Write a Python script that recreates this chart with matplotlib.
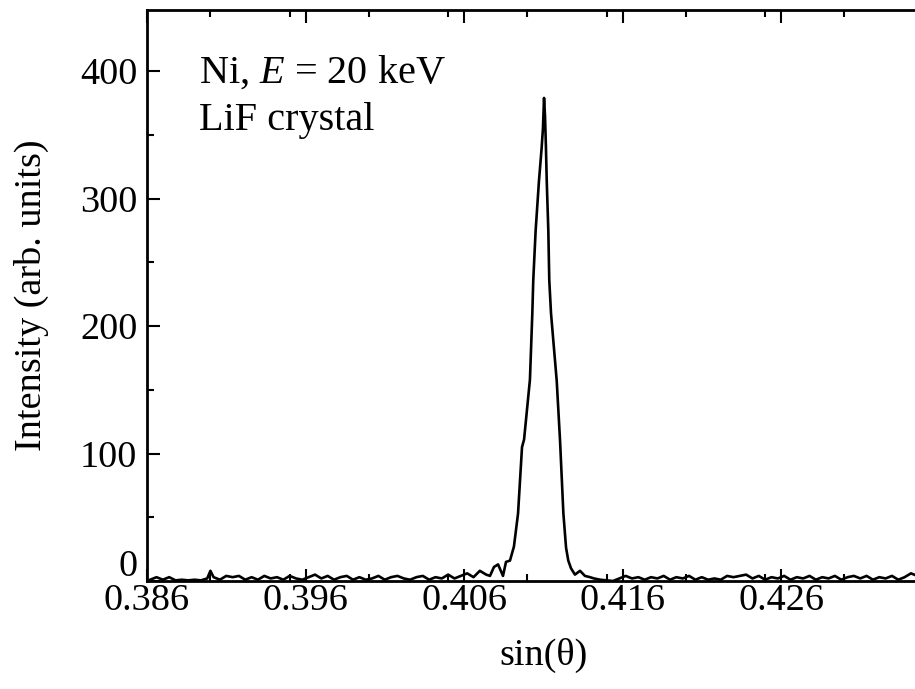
"""Ni K-alpha line on a LiF crystal, intensity against sin(theta)."""

import matplotlib
matplotlib.use("Agg")
import matplotlib.pyplot as plt
from matplotlib.ticker import MultipleLocator
from matplotlib.transforms import ScaledTranslation


INK = "#000000"
SERIF = ["Liberation Serif", "DejaVu Serif"]

# sin(theta) and intensity
left_x = [0.3862, 0.3866, 0.3870, 0.3874, 0.3878, 0.3882, 0.3886, 0.3890, 0.3894, 0.3898,
          0.3900, 0.3902, 0.3906, 0.3910, 0.3914, 0.3918, 0.3922, 0.3926, 0.3930, 0.3934,
          0.3938, 0.3942, 0.3946, 0.3950, 0.3954, 0.3958, 0.3962, 0.3966, 0.3970, 0.3974,
          0.3978, 0.3982, 0.3986, 0.3990, 0.3994, 0.3998, 0.4002, 0.4006, 0.4010, 0.4014,
          0.4018, 0.4022, 0.4026, 0.4030, 0.4034, 0.4038, 0.4042, 0.4046, 0.4050, 0.4054,
          0.4058, 0.4062, 0.4066, 0.4070, 0.4074]
left_y = [1, 3, 1, 3, 0.5, 1, 0.5, 1, 0.5, 2,
          8, 3, 1, 4, 3, 4, 1, 3, 1, 4,
          2, 3, 1, 4, 2, 1, 3, 5, 2, 4,
          1, 3, 4, 1, 3, 1, 2, 4, 1, 3,
          4, 2, 1, 3, 4, 1, 3, 2, 5, 2,
          4, 6, 3, 8, 5]

peak_x = [0.40764, 0.40789, 0.40815, 0.40846, 0.40865, 0.40890, 0.40915, 0.40941, 0.40966, 0.40979,
          0.41016, 0.41031, 0.41037, 0.41052, 0.41073, 0.41090, 0.41098, 0.41105, 0.41111, 0.41117,
          0.41122, 0.41132, 0.41138, 0.41149, 0.41185, 0.41206, 0.41227, 0.41244, 0.41258, 0.41275,
          0.41300, 0.41332, 0.41363, 0.41395]
peak_y = [4, 11, 13, 4, 15, 16, 27, 53, 105, 111,
          158, 210, 236, 275, 314, 340, 355, 379, 365, 340,
          314, 275, 236, 210, 157, 110, 53, 26, 16, 10,
          5, 8, 4, 3]

right_x = [0.4142, 0.4146, 0.4150, 0.4154, 0.4158, 0.4162, 0.4166, 0.4170, 0.4174, 0.4178,
           0.4182, 0.4186, 0.4190, 0.4194, 0.4198, 0.4202, 0.4206, 0.4210, 0.4214, 0.4218,
           0.4222, 0.4226, 0.4230, 0.4234, 0.4238, 0.4242, 0.4246, 0.4250, 0.4254, 0.4258,
           0.4262, 0.4266, 0.4270, 0.4274, 0.4278, 0.4282, 0.4286, 0.4290, 0.4294, 0.4298,
           0.4302, 0.4306, 0.4310, 0.4314, 0.4318, 0.4322, 0.4326, 0.4330, 0.4334, 0.4338,
           0.4342, 0.4346, 0.4350, 0.4354, 0.4358]
right_y = [2, 1, 0.5, 0, 2, 4, 2, 3, 1, 3,
           2, 4, 1, 3, 2, 4, 1, 3, 1, 2,
           1, 4, 3, 4, 5, 2, 4, 1, 3, 2,
           4, 1, 3, 2, 4, 1, 3, 2, 4, 1,
           3, 4, 2, 4, 1, 3, 2, 4, 1, 3,
           6, 4, 2, 3, 3]

x_ticks = [0.386, 0.396, 0.406, 0.416, 0.426]
x_tick_labels = ["0.386", "0.396", "0.406", "0.416", "0.426"]
y_ticks = [0, 100, 200, 300, 400]


def main() -> None:
    plt.rcParams["font.family"] = SERIF
    plt.rcParams["mathtext.fontset"] = "custom"
    plt.rcParams["mathtext.rm"] = "Liberation Serif"
    plt.rcParams["mathtext.it"] = "Liberation Serif:italic"

    fig = plt.figure(figsize=(9.15, 6.89), dpi=100)
    # the scan is cut on the right, so the axes run past the figure edge
    ax = fig.add_axes([147 / 915, 108 / 689, 792.5 / 915, 571 / 689])

    xs = left_x + peak_x + right_x
    ys = left_y + peak_y + right_y
    ax.plot(xs, ys, color=INK, linewidth=1.9, solid_joinstyle="round")

    ax.set_xlim(0.386, 0.436)
    ax.set_ylim(0, 448)
    ax.set_xticks(x_ticks)
    ax.set_xticklabels(x_tick_labels)
    ax.set_yticks(y_ticks)
    ax.xaxis.set_minor_locator(MultipleLocator(0.005))
    ax.yaxis.set_minor_locator(MultipleLocator(50))
    ax.tick_params(which="both", direction="in", top=True, right=True, width=1.5,
                   color=INK, labelsize=27.5, labelcolor=INK)
    ax.tick_params(which="major", length=9)
    ax.tick_params(which="minor", length=5)
    ax.tick_params(axis="x", pad=2)
    ax.tick_params(axis="y", pad=7)
    for spine in ax.spines.values():
        spine.set_linewidth(2.0)
        spine.set_color(INK)

    # the zero label sits a little above the axis line in the original
    zero = ax.get_yticklabels()[0]
    zero.set_transform(zero.get_transform() + ScaledTranslation(0, 13 / 72, fig.dpi_scale_trans))

    ax.set_xlabel("sin(θ)", fontsize=27.5, labelpad=14)
    ax.set_ylabel("Intensity (arb. units)", fontsize=27.5, labelpad=22)

    ax.text(0.065, 0.872, "Ni, $E$ = 20 keV", transform=ax.transAxes, fontsize=29, color=INK)
    ax.text(0.065, 0.79, "LiF crystal", transform=ax.transAxes, fontsize=29, color=INK)

    fig.savefig("out.png", dpi=100, facecolor="white")
    plt.close(fig)


if __name__ == "__main__":
    main()
